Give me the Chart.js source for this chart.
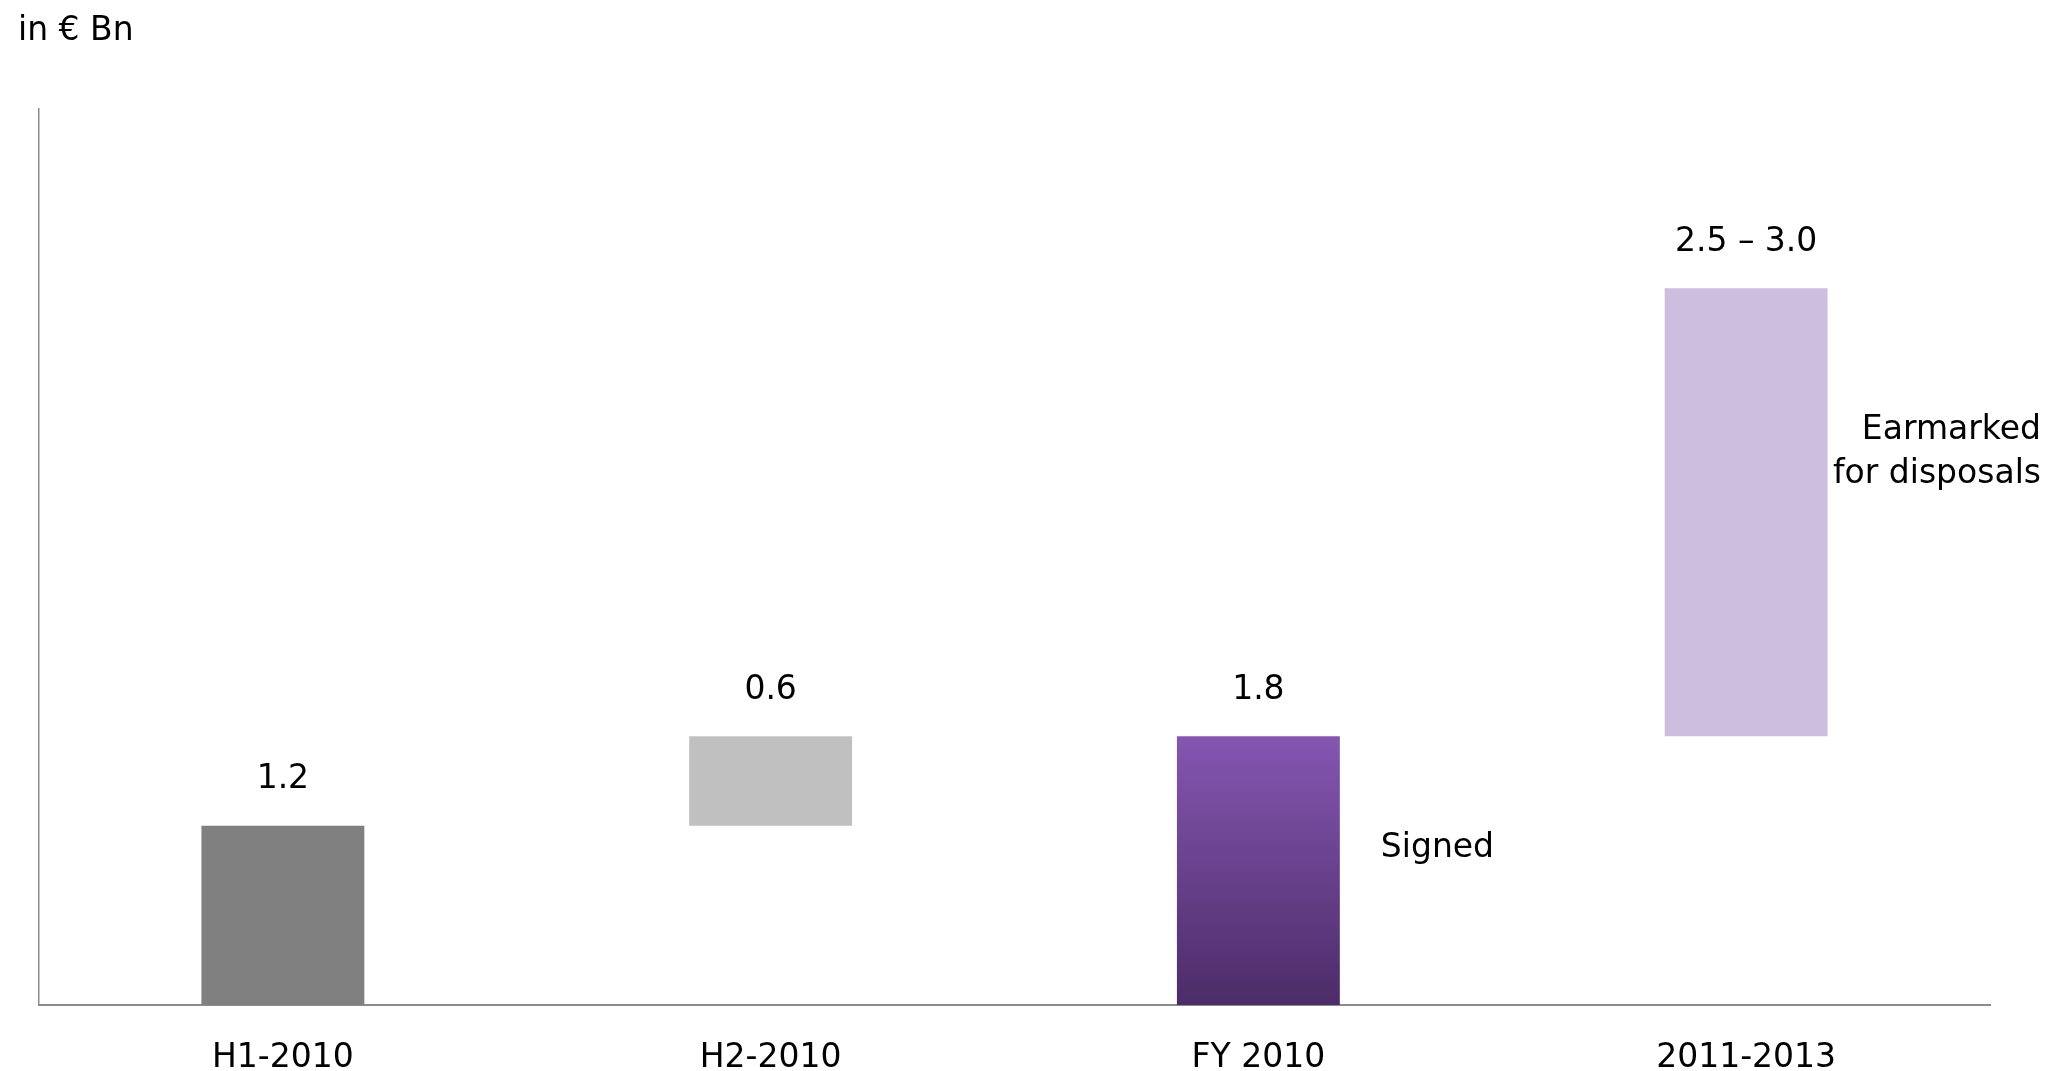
<!DOCTYPE html>
<html>
<head>
<meta charset="utf-8">
<script src="https://cdn.jsdelivr.net/npm/chart.js@4.4.1/dist/chart.umd.min.js"></script>
<style>
  html, body { margin: 0; padding: 0; background: #fff; }
  #wrap { width: 2057px; height: 1071px; position: relative; }
</style>
</head>
<body>
<div id="wrap"><canvas id="disposalsChart"></canvas></div>
<script>
// Disposals, in € Bn
const categories = ['H1-2010', 'H2-2010', 'FY 2010', '2011-2013'];
const barBase = [0, 1.2, 0, 1.8];
const barAmount = [1.2, 0.6, 1.8, 3.0];
const valueLabels = ['1.2', '0.6', '1.8', '2.5 – 3.0'];
const barColors = ['#808080', '#c0c0c0', null, '#cdbedf'];

const FONT = "'DejaVu Sans', Verdana, sans-serif";

// floating bars: [start, end]
const floating = barBase.map((b, i) => [b, b + barAmount[i]]);

// text drawn over the chart: unit, value labels and side notes
const annotations = {
  id: 'annotations',
  afterDatasetsDraw(chart) {
    const ctx = chart.ctx;
    const y = chart.scales.y;
    const bars = chart.getDatasetMeta(0).data;
    ctx.save();
    ctx.fillStyle = '#000';
    ctx.font = '33px ' + FONT;
    ctx.textBaseline = 'middle';

    ctx.textAlign = 'left';
    ctx.fillText('in € Bn', 18, 31);

    ctx.textAlign = 'center';
    bars.forEach((bar, i) => {
      ctx.fillText(valueLabels[i], bar.x, bar.y - 46);
    });

    // side notes
    const fy = bars[2];
    ctx.textAlign = 'left';
    ctx.fillText('Signed', fy.x + fy.width / 2 + 41, y.getPixelForValue(1.05));

    ctx.textAlign = 'right';
    const right = chart.width - 16;
    ctx.fillText('Earmarked', right, y.getPixelForValue(3.85));
    ctx.fillText('for disposals', right, y.getPixelForValue(3.55));
    ctx.restore();
  }
};

const ctx = document.getElementById('disposalsChart').getContext('2d');
new Chart(ctx, {
  type: 'bar',
  data: {
    labels: categories,
    datasets: [{
      data: floating,
      backgroundColor: function(context) {
        const i = context.dataIndex;
        if (barColors[i]) return barColors[i];
        const chart = context.chart;
        if (!chart.chartArea) return '#6a3f93';
        const ys = chart.scales.y;
        const g = chart.ctx.createLinearGradient(0, ys.getPixelForValue(floating[i][1]), 0, ys.getPixelForValue(floating[i][0]));
        g.addColorStop(0, '#8556b1');
        g.addColorStop(1, '#4c2c68');
        return g;
      },
      borderWidth: 0,
      barPercentage: 0.334,
      categoryPercentage: 1.0
    }]
  },
  options: {
    responsive: true,
    maintainAspectRatio: false,
    animation: false,
    layout: { padding: { left: 39, right: 67, top: 109, bottom: 0 } },
    plugins: {
      legend: { display: false },
      tooltip: { enabled: false }
    },
    scales: {
      x: {
        grid: { display: false, drawTicks: false, tickLength: 0 },
        border: { display: true, color: '#8c8c8c', width: 2 },
        ticks: { color: '#000', font: { family: FONT, size: 33 }, padding: 34, maxRotation: 0 },
        afterFit(scale) { scale.height = 66; }
      },
      y: {
        min: 0,
        max: 6,
        grid: { display: false, drawTicks: false },
        border: { display: true, color: '#8c8c8c', width: 1.5 },
        ticks: { display: false },
        afterFit(scale) { scale.width = 0; }
      }
    }
  },
  plugins: [annotations]
});
</script>
</body>
</html>
